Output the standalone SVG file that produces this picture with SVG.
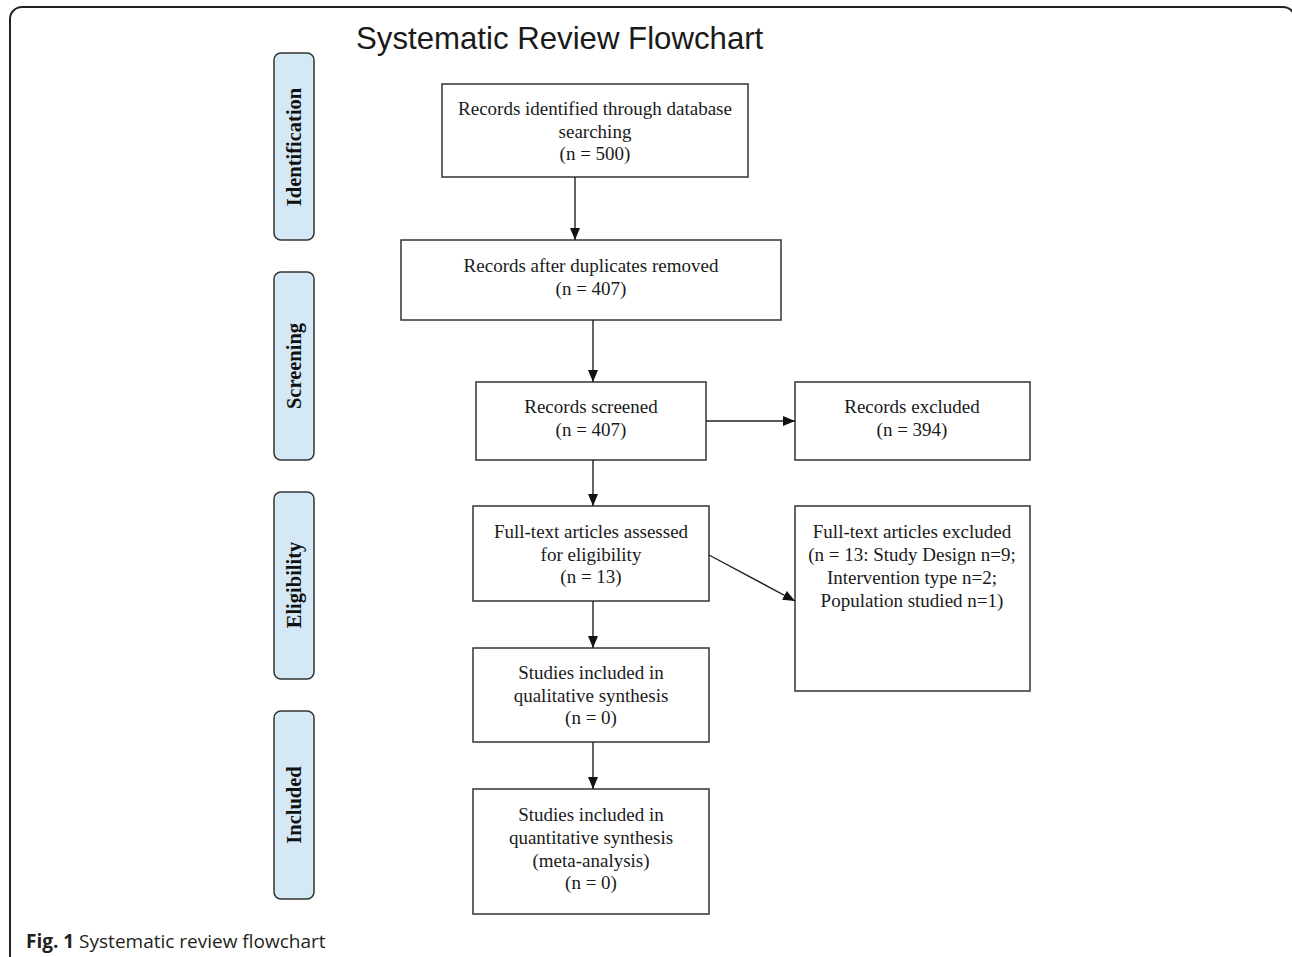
<svg xmlns="http://www.w3.org/2000/svg" width="1292" height="957" viewBox="0 0 1292 957">
<style>
.frame{fill:none;stroke:#222;stroke-width:2}
.stage{fill:#d4e8f6;stroke:#333;stroke-width:1.5}
.stxt{font-family:"Liberation Serif","Times New Roman",serif;font-weight:bold;font-size:20.5px;fill:#111;text-anchor:middle}
.box{fill:#fff;stroke:#333;stroke-width:1.5}
.t{font-family:"Liberation Serif","Times New Roman",serif;font-size:19px;fill:#1a1a1a;text-anchor:middle}
.title{font-family:"Liberation Sans",Arial,sans-serif;font-size:31.2px;fill:#1a1a1a}
.cap{font-family:"Open Sans","Liberation Sans",sans-serif;font-size:19px;fill:#231f20}
.conn line{stroke:#222;stroke-width:1.4;marker-end:url(#ah)}
</style>
<defs>
<marker id="ah" viewBox="0 0 12 10" refX="12" refY="5" markerWidth="12" markerHeight="10" markerUnits="userSpaceOnUse" orient="auto">
<path d="M0,0 L12,5 L0,10 Z" fill="#111"/>
</marker>
</defs>
<rect width="1292" height="957" fill="#fff"/>
<rect class="frame" x="10" y="7" width="1285" height="1000" rx="12" ry="12"/>
<text class="title" x="356" y="49">Systematic Review Flowchart</text>

<g id="stage-identification">
<rect class="stage" x="274" y="53" width="40" height="187" rx="7"/>
<text class="stxt" transform="translate(301,147) rotate(-90)">Identification</text>
</g>
<g id="stage-screening">
<rect class="stage" x="274" y="272" width="40" height="188" rx="7"/>
<text class="stxt" transform="translate(301,366) rotate(-90)">Screening</text>
</g>
<g id="stage-eligibility">
<rect class="stage" x="274" y="492" width="40" height="187" rx="7"/>
<text class="stxt" transform="translate(301,585) rotate(-90)">Eligibility</text>
</g>
<g id="stage-included">
<rect class="stage" x="274" y="711" width="40" height="188" rx="7"/>
<text class="stxt" transform="translate(301,805) rotate(-90)">Included</text>
</g>

<g id="n-identified">
<rect class="box" x="442" y="84" width="306" height="93"/>
<text class="t" x="595" y="115">Records identified through database</text>
<text class="t" x="595" y="138">searching</text>
<text class="t" x="595" y="160">(n = 500)</text>
</g>
<g id="n-dedup">
<rect class="box" x="401" y="240" width="380" height="80"/>
<text class="t" x="591" y="272">Records after duplicates removed</text>
<text class="t" x="591" y="295">(n = 407)</text>
</g>
<g id="n-screened">
<rect class="box" x="476" y="382" width="230" height="78"/>
<text class="t" x="591" y="413">Records screened</text>
<text class="t" x="591" y="436">(n = 407)</text>
</g>
<g id="n-excluded">
<rect class="box" x="795" y="382" width="235" height="78"/>
<text class="t" x="912" y="413">Records excluded</text>
<text class="t" x="912" y="436">(n = 394)</text>
</g>
<g id="n-fulltext">
<rect class="box" x="473" y="506" width="236" height="95"/>
<text class="t" x="591" y="538">Full-text articles assessed</text>
<text class="t" x="591" y="561">for eligibility</text>
<text class="t" x="591" y="583">(n = 13)</text>
</g>
<g id="n-ft-excluded">
<rect class="box" x="795" y="506" width="235" height="185"/>
<text class="t" x="912" y="538">Full-text articles excluded</text>
<text class="t" x="912" y="561">(n = 13: Study Design n=9;</text>
<text class="t" x="912" y="584">Intervention type n=2;</text>
<text class="t" x="912" y="607">Population studied n=1)</text>
</g>
<g id="n-qualitative">
<rect class="box" x="473" y="648" width="236" height="94"/>
<text class="t" x="591" y="679">Studies included in</text>
<text class="t" x="591" y="702">qualitative synthesis</text>
<text class="t" x="591" y="724">(n = 0)</text>
</g>
<g id="n-quantitative">
<rect class="box" x="473" y="789" width="236" height="125"/>
<text class="t" x="591" y="821">Studies included in</text>
<text class="t" x="591" y="844">quantitative synthesis</text>
<text class="t" x="591" y="867">(meta-analysis)</text>
<text class="t" x="591" y="889">(n = 0)</text>
</g>

<g id="connectors" class="conn">
<line x1="575" y1="177" x2="575" y2="240"/>
<line x1="593" y1="320" x2="593" y2="382"/>
<line x1="706" y1="421" x2="795" y2="421"/>
<line x1="593" y1="460" x2="593" y2="506"/>
<line x1="709" y1="555" x2="795" y2="601"/>
<line x1="593" y1="601" x2="593" y2="648"/>
<line x1="593" y1="742" x2="593" y2="789"/>
</g>

<text class="cap" x="26" y="948"><tspan font-weight="bold">Fig. 1</tspan> Systematic review flowchart</text>
</svg>
